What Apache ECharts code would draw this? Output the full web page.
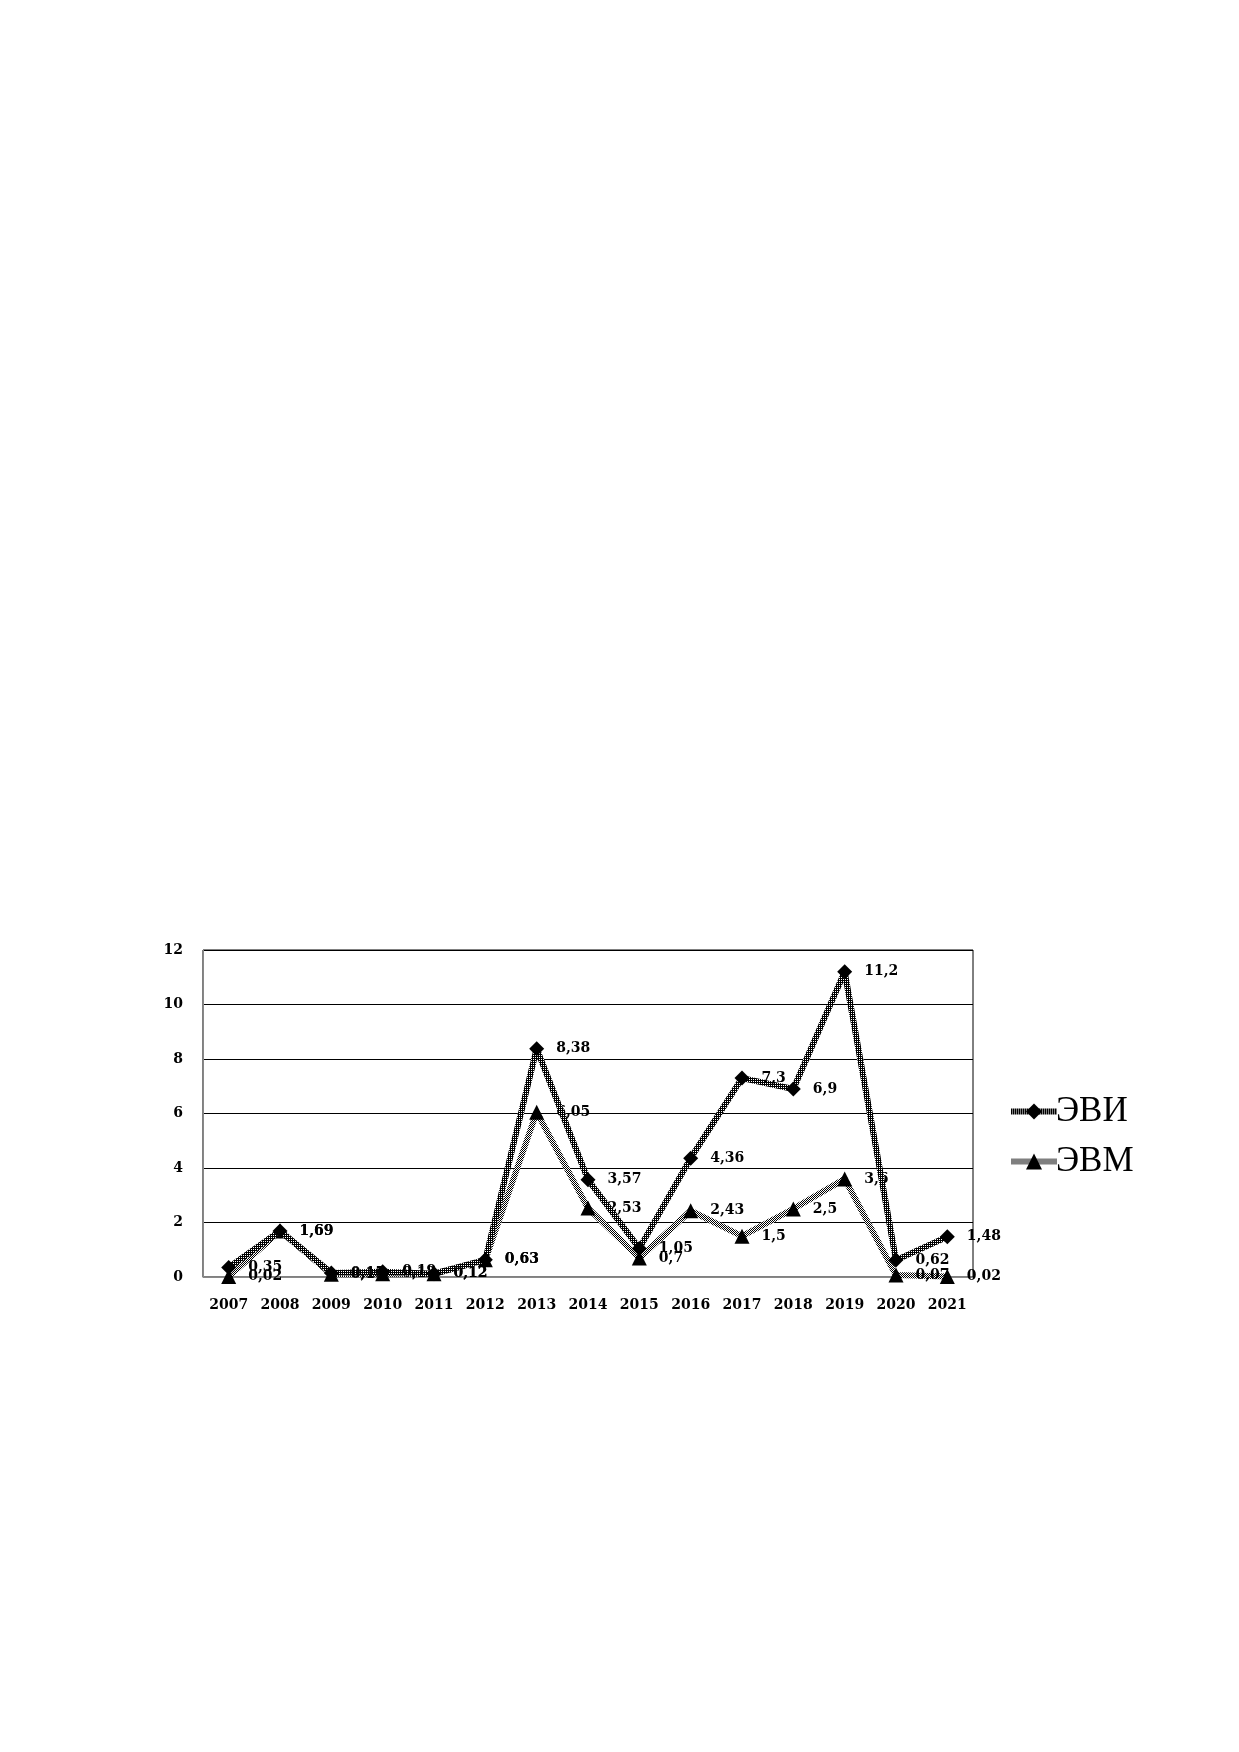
<!DOCTYPE html>
<html>
<head>
<meta charset="UTF-8">
<title>ЭВИ / ЭВМ</title>
<script src="https://cdn.jsdelivr.net/npm/echarts@6/dist/echarts.min.js"></script>
<style>
  html, body { margin: 0; padding: 0; background: #fff; }
  #main { width: 1239px; height: 1752px; }
</style>
</head>
<body>
<div id="main"></div>
<script>
var years = ['2007', '2008', '2009', '2010', '2011', '2012', '2013', '2014', '2015', '2016', '2017', '2018', '2019', '2020', '2021'];
var evi = [0.35, 1.69, 0.15, 0.19, 0.12, 0.63, 8.38, 3.57, 1.05, 4.36, 7.3, 6.9, 11.2, 0.62, 1.48];
var evm = [0.02, 1.69, 0.1, 0.12, 0.12, 0.63, 6.05, 2.53, 0.7, 2.43, 1.5, 2.5, 3.6, 0.07, 0.02];
var yTicks = [0, 2, 4, 6, 8, 10, 12];

// хатч-текстура для линий (как в исходной диаграмме)
function makePattern(cells) {
  var c = document.createElement('canvas');
  var n = cells.length;
  c.width = n; c.height = n;
  var ctx = c.getContext('2d');
  for (var i = 0; i < n; i++) {
    for (var j = 0; j < n; j++) {
      ctx.fillStyle = cells[i][j];
      ctx.fillRect(j, i, 1, 1);
    }
  }
  return { image: c, repeat: 'repeat' };
}
var darkPat = makePattern([['#000', '#000'], ['#000', '#fff']]);
var grayPat = makePattern([['#000', '#fff'], ['#fff', '#000']]);

var labelFont = {
  fontFamily: 'DejaVu Serif',
  fontWeight: 'bold',
  fontSize: 14,
  color: '#000'
};

function fmt(p) {
  return String(p.value).replace('.', ',');
}

var myChart = echarts.init(document.getElementById('main'));

var option = {
  animation: false,
  backgroundColor: '#fff',
  grid: {
    left: 203,
    right: 266,
    top: 950,
    bottom: 475,
    show: true,
    borderColor: '#000',
    borderWidth: 1
  },
  legend: {
    orient: 'vertical',
    left: 1003,
    top: 1089,
    itemWidth: 46,
    itemHeight: 20,
    itemGap: 15,
    lineStyle: { width: 6 },
    textStyle: {
      fontFamily: 'Liberation Serif',
      fontSize: 35,
      color: '#000',
      padding: [0, 0, 0, -6]
    },
    data: ['ЭВИ', 'ЭВМ']
  },
  xAxis: {
    type: 'category',
    data: years,
    boundaryGap: true,
    axisLine: { lineStyle: { color: '#888', width: 1 } },
    axisTick: { show: false },
    axisLabel: Object.assign({ margin: 21, interval: 0 }, labelFont)
  },
  yAxis: {
    type: 'value',
    min: 0,
    max: yTicks[yTicks.length - 1],
    interval: 2,
    axisLine: { show: true, lineStyle: { color: '#888', width: 1 } },
    axisTick: { show: false },
    splitLine: { lineStyle: { color: '#000', width: 1 } },
    axisLabel: Object.assign({ margin: 20 }, labelFont)
  },
  series: [{
    name: 'ЭВМ',
    type: 'line',
    data: evm,
    symbol: 'triangle',
    symbolSize: 15,
    z: 2,
    lineStyle: { color: grayPat, width: 6 },
    itemStyle: { color: '#000' },
    label: Object.assign({ show: true, position: 'right', distance: 12, formatter: fmt }, labelFont)
  }, {
    name: 'ЭВИ',
    type: 'line',
    data: evi,
    symbol: 'diamond',
    symbolSize: 15,
    z: 3,
    lineStyle: { color: darkPat, width: 6 },
    itemStyle: { color: '#000' },
    label: Object.assign({ show: true, position: 'right', distance: 12, formatter: fmt }, labelFont)
  }]
};

myChart.setOption(option);
</script>
</body>
</html>
